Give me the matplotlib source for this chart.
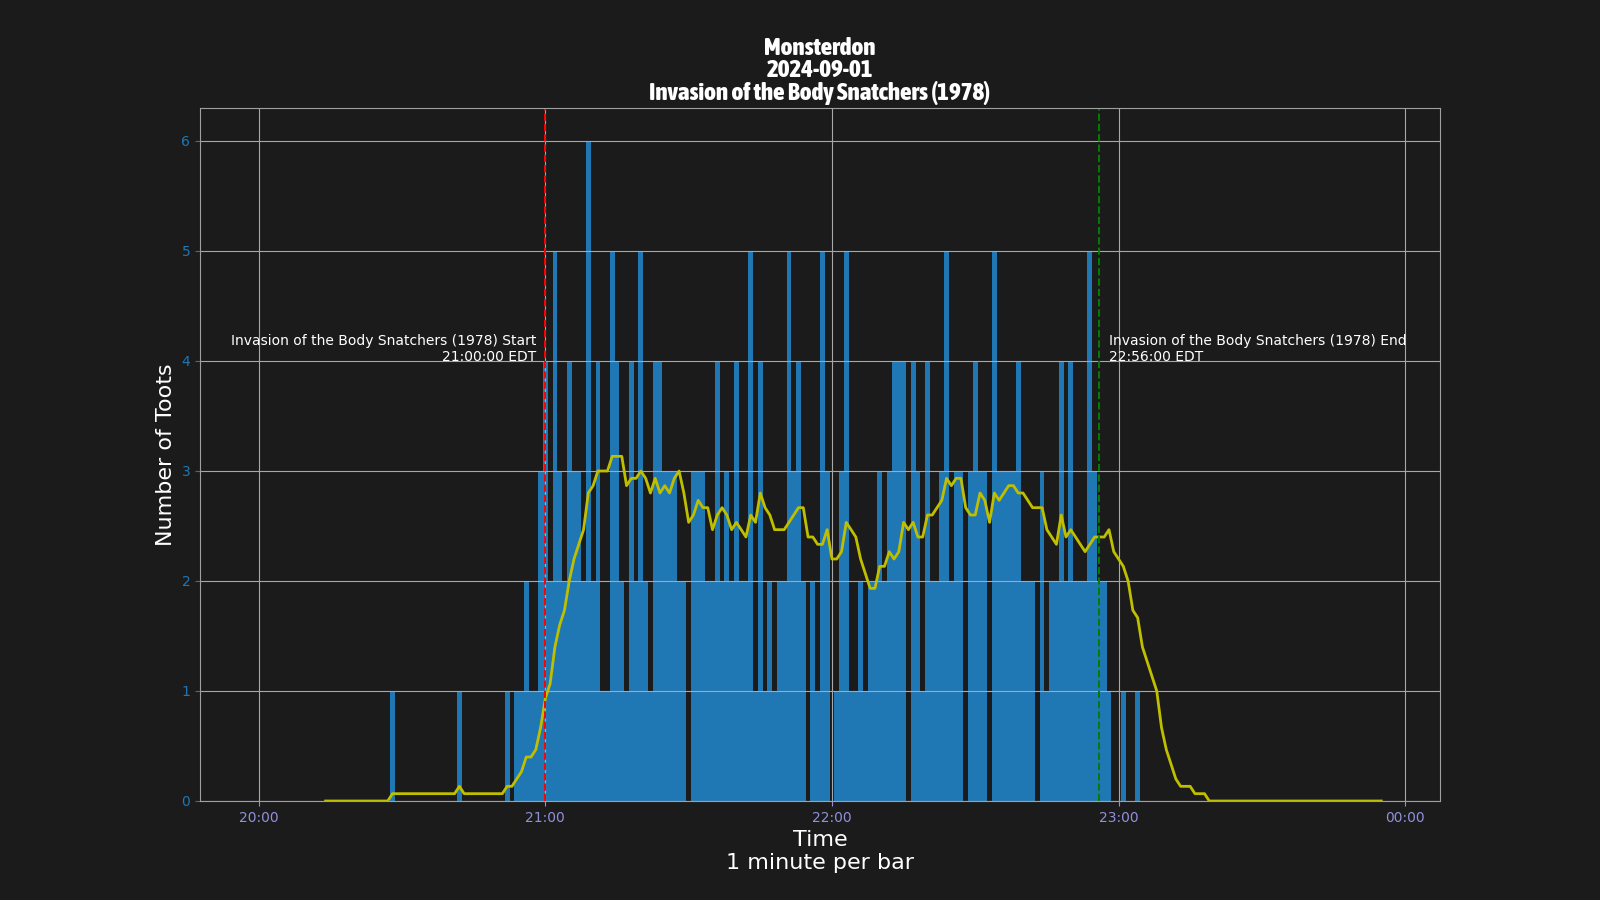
import pandas as pd
import numpy as np
import matplotlib
matplotlib.use("Agg")
import matplotlib.pyplot as plt
import matplotlib.dates as mdates
from matplotlib import font_manager as fm

# ---- data ----
start_time = "2024-09-01 20:00"
n_minutes = 236
# minute offset (from 20:00) -> toots; all other minutes are 0
nonzero_minutes = [28, 42, 52, 54, 55, 56, 57, 58, 59,
                   60, 61, 62, 63, 64, 65, 66, 67, 68, 69,
                   70, 71, 72, 73, 74, 75, 76, 77, 78, 79,
                   80, 81, 82, 83, 84, 85, 86, 87, 88, 89,
                   91, 92, 93, 94, 95, 96, 97, 98, 99,
                   100, 101, 102, 103, 104, 105, 106, 107, 108, 109,
                   110, 111, 112, 113, 114, 116, 117, 118, 119,
                   121, 122, 123, 124, 125, 126, 127, 128, 129,
                   130, 131, 132, 133, 134, 135, 137, 138, 139,
                   140, 141, 142, 143, 144, 145, 146, 147, 149,
                   150, 151, 152, 154, 155, 156, 157, 158, 159,
                   160, 161, 162, 164, 165, 166, 167, 168, 169,
                   170, 171, 172, 173, 174, 175, 176, 177, 178,
                   181, 184]
nonzero_counts = [1, 1, 1, 1, 1, 2, 1, 1, 3,
                  4, 2, 5, 3, 2, 4, 3, 3, 2, 6,
                  2, 4, 1, 1, 5, 4, 2, 1, 4, 2,
                  5, 2, 1, 4, 4, 3, 3, 3, 2, 2,
                  3, 3, 3, 2, 2, 4, 2, 3, 2,
                  4, 2, 2, 5, 1, 4, 1, 2, 1, 2,
                  2, 5, 3, 4, 2, 2, 1, 5, 3,
                  1, 3, 5, 1, 1, 2, 1, 2, 2,
                  3, 2, 3, 4, 4, 4, 4, 3, 1,
                  4, 2, 2, 3, 5, 2, 3, 3, 3,
                  4, 3, 3, 5, 3, 3, 3, 3, 4,
                  2, 2, 2, 3, 1, 2, 2, 4, 2,
                  4, 2, 2, 2, 5, 3, 2, 2, 1,
                  1, 1]
rolling_window = 15
movie_start = "2024-09-01 21:00"
movie_end = "2024-09-01 22:56"
title_lines = ["Monsterdon", "2024-09-01", "Invasion of the Body Snatchers (1978)"]
start_label = "Invasion of the Body Snatchers (1978) Start\n21:00:00 EDT"
end_label = "Invasion of the Body Snatchers (1978) End\n22:56:00 EDT"

times = pd.date_range(start_time, periods=n_minutes, freq="min")
counts = pd.Series(0, index=times, dtype=float)
counts.iloc[nonzero_minutes] = nonzero_counts
rolling = counts.rolling(rolling_window).mean()

# pick a narrow bold font for the title if one is installed
best = None
for f in fm.fontManager.ttflist:
    name = f.name
    narrow = ("Narrow" in name or "Condensed" in name or "Compressed" in name
              or str(f.stretch).lower() in ("condensed", "semi-condensed", "extra-condensed", "ultra-condensed")
              or (isinstance(f.stretch, int) and f.stretch < 500)
              or "Condensed" in f.fname or "Narrow" in f.fname)
    if not narrow:
        continue
    w = f.weight if isinstance(f.weight, int) else (700 if "bold" in str(f.weight).lower() else 400)
    if "Oblique" in f.fname or "Italic" in f.fname or f.style != "normal":
        continue
    score = abs(w - 800)
    if best is None or score < best[0]:
        best = (score, f)
if best is not None:
    title_fp = fm.FontProperties(fname=best[1].fname, size=18)
else:
    title_fp = fm.FontProperties(family="DejaVu Sans", weight="bold", size=12)

BG = "#1b1b1b"
fig = plt.figure(figsize=(16, 9), dpi=100, facecolor=BG)
ax = fig.add_subplot(111)
ax.set_facecolor(BG)

ax.bar(times, counts.values, width=1 / 1440, color="#1f77b4", linewidth=0, align="center")
ax.plot(times, rolling.values, color="#bfbf00", linewidth=2)

ms = pd.Timestamp(movie_start)
me = pd.Timestamp(movie_end)
ax.axvline(ms, color="red", linestyle="--", linewidth=1.4)
ax.axvline(me, color="green", linestyle="--", linewidth=1.4)

ax.annotate(start_label, xy=(ms, 4), xytext=(-9, -3), textcoords="offset pixels",
            ha="right", va="bottom", color="white", fontsize=10, multialignment="right")
ax.annotate(end_label, xy=(me, 4), xytext=(10, -3), textcoords="offset pixels",
            ha="left", va="bottom", color="white", fontsize=10, multialignment="left")

ax.grid(True, color="#a8a8a8", linewidth=0.8)
ax.xaxis.set_major_locator(mdates.HourLocator())
ax.xaxis.set_major_formatter(mdates.DateFormatter("%H:%M"))
ax.tick_params(axis="x", colors="#9090dc", labelsize=10)
ax.tick_params(axis="y", colors="#1f77b4", labelsize=10)
for s in ax.spines.values():
    s.set_color("#a0a0a0")

ax.set_xlabel("Time\n1 minute per bar", color="white", fontsize=16)
ax.set_ylabel("Number of Toots", color="white", fontsize=16)
ax.set_title("\n".join(title_lines), color="white", fontproperties=title_fp, linespacing=0.95)

fig.savefig("out.png", dpi=100, facecolor=BG)
